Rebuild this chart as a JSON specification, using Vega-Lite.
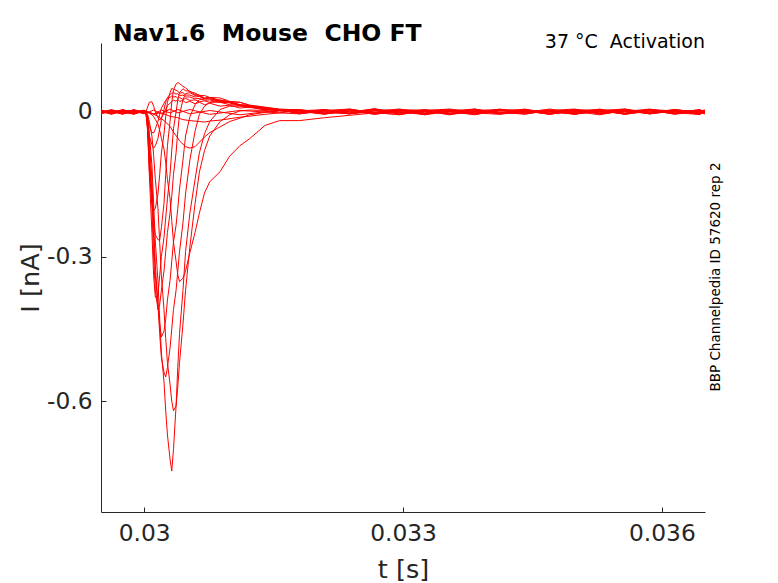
{
  "$schema": "https://vega.github.io/schema/vega-lite/v6.json",
  "description": "Nav1.6 activation current traces",
  "width": 604,
  "height": 469,
  "autosize": "none",
  "padding": {"left": 101, "top": 43, "right": 73, "bottom": 71},
  "background": "white",
  "title": {"text": "Nav1.6\u00a0\u00a0Mouse\u00a0\u00a0CHO FT", "anchor": "start", "frame": "group", "dx": 12, "dy": 34, "offset": 2, "baseline": "alphabetic", "font": "DejaVu Sans", "fontSize": 23.5, "fontWeight": "bold", "color": "#000000"},
  "datasets": {
    "traces": [
      {"s":"a","t":0.0295,"i":0.003},{"s":"a","t":0.02962,"i":-0.004},{"s":"a","t":0.02975,"i":0.002},{"s":"a","t":0.02988,"i":-0.003},{"s":"a","t":0.03,"i":0.001},
      {"s":"a","t":0.03002,"i":0.002},{"s":"a","t":0.03011,"i":-0.005},{"s":"a","t":0.0302,"i":0.004},{"s":"a","t":0.0303,"i":-0.002},{"s":"a","t":0.03039,"i":0.005},{"s":"a","t":0.03053,"i":-0.004},{"s":"a","t":0.03076,"i":0.003},{"s":"a","t":0.03111,"i":-0.006},{"s":"a","t":0.03157,"i":0.004},
      {"s":"a","t":0.0318,"i":0.002},{"s":"a","t":0.03209,"i":-0.005},{"s":"a","t":0.03238,"i":0.006},{"s":"a","t":0.03267,"i":-0.002},{"s":"a","t":0.03296,"i":0.004},{"s":"a","t":0.03325,"i":-0.006},{"s":"a","t":0.03354,"i":0.001},{"s":"a","t":0.03383,"i":0.005},{"s":"a","t":0.03412,"i":-0.003},{"s":"a","t":0.03441,"i":0.003},{"s":"a","t":0.0347,"i":-0.005},{"s":"a","t":0.03499,"i":0.004},{"s":"a","t":0.03528,"i":-0.001},{"s":"a","t":0.03557,"i":0.006},{"s":"a","t":0.03586,"i":-0.004},{"s":"a","t":0.03615,"i":0.002},{"s":"a","t":0.03644,"i":-0.005},{"s":"a","t":0.0365,"i":0.001},

      {"s":"b","t":0.0295,"i":-0.002},{"s":"b","t":0.02962,"i":0.005},{"s":"b","t":0.02975,"i":-0.003},{"s":"b","t":0.02988,"i":0.004},{"s":"b","t":0.03,"i":-0.001},
      {"s":"b","t":0.03002,"i":-0.003},{"s":"b","t":0.03011,"i":0.004},{"s":"b","t":0.0302,"i":-0.004},{"s":"b","t":0.0303,"i":0.006},{"s":"b","t":0.03039,"i":-0.002},{"s":"b","t":0.03053,"i":0.005},{"s":"b","t":0.03076,"i":-0.005},{"s":"b","t":0.03111,"i":0.003},{"s":"b","t":0.03157,"i":-0.002},
      {"s":"b","t":0.0318,"i":-0.004},{"s":"b","t":0.03209,"i":0.003},{"s":"b","t":0.03238,"i":-0.002},{"s":"b","t":0.03267,"i":0.007},{"s":"b","t":0.03296,"i":-0.005},{"s":"b","t":0.03325,"i":0.002},{"s":"b","t":0.03354,"i":-0.006},{"s":"b","t":0.03383,"i":0.003},{"s":"b","t":0.03412,"i":0.005},{"s":"b","t":0.03441,"i":-0.004},{"s":"b","t":0.0347,"i":0.002},{"s":"b","t":0.03499,"i":-0.002},{"s":"b","t":0.03528,"i":0.006},{"s":"b","t":0.03557,"i":-0.005},{"s":"b","t":0.03586,"i":0.003},{"s":"b","t":0.03615,"i":-0.003},{"s":"b","t":0.03644,"i":0.004},{"s":"b","t":0.0365,"i":-0.002},

      {"s":"c","t":0.0295,"i":0.004},{"s":"c","t":0.02962,"i":-0.001},{"s":"c","t":0.02975,"i":0.003},{"s":"c","t":0.02988,"i":-0.005},{"s":"c","t":0.03,"i":0.002},
      {"s":"c","t":0.03002,"i":0.001},{"s":"c","t":0.03011,"i":-0.004},{"s":"c","t":0.0302,"i":-0.002},{"s":"c","t":0.0303,"i":-0.009},{"s":"c","t":0.03039,"i":-0.012},{"s":"c","t":0.03045,"i":-0.016},{"s":"c","t":0.03053,"i":-0.018},{"s":"c","t":0.03064,"i":-0.02},{"s":"c","t":0.0307,"i":-0.021},{"s":"c","t":0.03076,"i":-0.019},{"s":"c","t":0.03088,"i":-0.017},{"s":"c","t":0.03111,"i":-0.011},{"s":"c","t":0.0314,"i":-0.005},{"s":"c","t":0.03157,"i":-0.002},
      {"s":"c","t":0.0318,"i":0.003},{"s":"c","t":0.03209,"i":-0.004},{"s":"c","t":0.03238,"i":0.005},{"s":"c","t":0.03267,"i":-0.001},{"s":"c","t":0.03296,"i":-0.006},{"s":"c","t":0.03325,"i":0.004},{"s":"c","t":0.03354,"i":0.002},{"s":"c","t":0.03383,"i":-0.003},{"s":"c","t":0.03412,"i":0.006},{"s":"c","t":0.03441,"i":-0.002},{"s":"c","t":0.0347,"i":0.001},{"s":"c","t":0.03499,"i":-0.005},{"s":"c","t":0.03528,"i":0.004},{"s":"c","t":0.03557,"i":0.002},{"s":"c","t":0.03586,"i":-0.004},{"s":"c","t":0.03615,"i":0.005},{"s":"c","t":0.03644,"i":-0.001},{"s":"c","t":0.0365,"i":0.003},

      {"s":"d","t":0.0295,"i":-0.003},{"s":"d","t":0.02962,"i":0.002},{"s":"d","t":0.02975,"i":-0.005},{"s":"d","t":0.02988,"i":0.003},{"s":"d","t":0.03,"i":0.0},
      {"s":"d","t":0.03002,"i":0.001},{"s":"d","t":0.03009,"i":-0.003},{"s":"d","t":0.03016,"i":-0.009},{"s":"d","t":0.03023,"i":-0.018},{"s":"d","t":0.0303,"i":-0.03},{"s":"d","t":0.03034,"i":-0.042},{"s":"d","t":0.03039,"i":-0.054},{"s":"d","t":0.03041,"i":-0.06},{"s":"d","t":0.03045,"i":-0.067},{"s":"d","t":0.03048,"i":-0.072},{"s":"d","t":0.03053,"i":-0.075},{"s":"d","t":0.03059,"i":-0.072},{"s":"d","t":0.03064,"i":-0.063},{"s":"d","t":0.0307,"i":-0.052},{"s":"d","t":0.03076,"i":-0.043},{"s":"d","t":0.03088,"i":-0.031},{"s":"d","t":0.03099,"i":-0.02},{"s":"d","t":0.03111,"i":-0.013},{"s":"d","t":0.03122,"i":-0.006},{"s":"d","t":0.0314,"i":-0.001},{"s":"d","t":0.03157,"i":0.003},
      {"s":"d","t":0.0318,"i":-0.002},{"s":"d","t":0.03209,"i":0.005},{"s":"d","t":0.03238,"i":-0.004},{"s":"d","t":0.03267,"i":0.002},{"s":"d","t":0.03296,"i":0.006},{"s":"d","t":0.03325,"i":-0.003},{"s":"d","t":0.03354,"i":0.001},{"s":"d","t":0.03383,"i":-0.006},{"s":"d","t":0.03412,"i":0.004},{"s":"d","t":0.03441,"i":0.003},{"s":"d","t":0.0347,"i":-0.002},{"s":"d","t":0.03499,"i":0.005},{"s":"d","t":0.03528,"i":-0.004},{"s":"d","t":0.03557,"i":0.001},{"s":"d","t":0.03586,"i":0.006},{"s":"d","t":0.03615,"i":-0.002},{"s":"d","t":0.03644,"i":-0.005},{"s":"d","t":0.0365,"i":0.002},

      {"s":"e","t":0.0295,"i":0.002},{"s":"e","t":0.02962,"i":-0.002},{"s":"e","t":0.02975,"i":0.004},{"s":"e","t":0.02988,"i":-0.001},{"s":"e","t":0.03,"i":0.003},
      {"s":"e","t":0.03002,"i":0.0},{"s":"e","t":0.03004,"i":-0.001},{"s":"e","t":0.03006,"i":-0.003},{"s":"e","t":0.03009,"i":-0.006},{"s":"e","t":0.03011,"i":-0.01},{"s":"e","t":0.03013,"i":-0.016},{"s":"e","t":0.03016,"i":-0.025},{"s":"e","t":0.03018,"i":-0.038},{"s":"e","t":0.0302,"i":-0.055},{"s":"e","t":0.03023,"i":-0.077},{"s":"e","t":0.03025,"i":-0.105},{"s":"e","t":0.03027,"i":-0.14},{"s":"e","t":0.0303,"i":-0.18},{"s":"e","t":0.03032,"i":-0.225},{"s":"e","t":0.03034,"i":-0.27},{"s":"e","t":0.03037,"i":-0.31},{"s":"e","t":0.03039,"i":-0.338},{"s":"e","t":0.03041,"i":-0.352},{"s":"e","t":0.03045,"i":-0.345},{"s":"e","t":0.03048,"i":-0.33},{"s":"e","t":0.03053,"i":-0.292},{"s":"e","t":0.03059,"i":-0.25},{"s":"e","t":0.03064,"i":-0.21},{"s":"e","t":0.0307,"i":-0.168},{"s":"e","t":0.03076,"i":-0.145},{"s":"e","t":0.03088,"i":-0.124},{"s":"e","t":0.03099,"i":-0.092},{"s":"e","t":0.03111,"i":-0.07},{"s":"e","t":0.03122,"i":-0.056},{"s":"e","t":0.0314,"i":-0.028},{"s":"e","t":0.03157,"i":-0.018},
      {"s":"e","t":0.0318,"i":-0.018},{"s":"e","t":0.03209,"i":-0.012},{"s":"e","t":0.03238,"i":-0.007},{"s":"e","t":0.03267,"i":-0.002},{"s":"e","t":0.03296,"i":0.004},{"s":"e","t":0.03325,"i":-0.003},{"s":"e","t":0.03354,"i":0.002},{"s":"e","t":0.03383,"i":0.006},{"s":"e","t":0.03412,"i":-0.004},{"s":"e","t":0.03441,"i":0.001},{"s":"e","t":0.0347,"i":0.004},{"s":"e","t":0.03499,"i":-0.005},{"s":"e","t":0.03528,"i":0.003},{"s":"e","t":0.03557,"i":-0.002},{"s":"e","t":0.03586,"i":0.005},{"s":"e","t":0.03615,"i":-0.003},{"s":"e","t":0.03644,"i":0.002},{"s":"e","t":0.0365,"i":-0.004},

      {"s":"f","t":0.0295,"i":-0.004},{"s":"f","t":0.02962,"i":0.003},{"s":"f","t":0.02975,"i":-0.001},{"s":"f","t":0.02988,"i":0.002},{"s":"f","t":0.03,"i":-0.003},
      {"s":"f","t":0.03002,"i":0.001},{"s":"f","t":0.03004,"i":-0.005},{"s":"f","t":0.03006,"i":-0.02},{"s":"f","t":0.03009,"i":-0.05},{"s":"f","t":0.03011,"i":-0.09},{"s":"f","t":0.03013,"i":-0.14},{"s":"f","t":0.03016,"i":-0.2},{"s":"f","t":0.03018,"i":-0.27},{"s":"f","t":0.0302,"i":-0.34},{"s":"f","t":0.03023,"i":-0.41},{"s":"f","t":0.03025,"i":-0.47},{"s":"f","t":0.03027,"i":-0.52},{"s":"f","t":0.0303,"i":-0.565},{"s":"f","t":0.03032,"i":-0.6},{"s":"f","t":0.03034,"i":-0.62},{"s":"f","t":0.03037,"i":-0.61},{"s":"f","t":0.03039,"i":-0.57},{"s":"f","t":0.03041,"i":-0.52},{"s":"f","t":0.03045,"i":-0.44},{"s":"f","t":0.03048,"i":-0.37},{"s":"f","t":0.03053,"i":-0.28},{"s":"f","t":0.03059,"i":-0.19},{"s":"f","t":0.03064,"i":-0.125},{"s":"f","t":0.0307,"i":-0.08},{"s":"f","t":0.03076,"i":-0.05},{"s":"f","t":0.03088,"i":-0.02},{"s":"f","t":0.03099,"i":-0.006},{"s":"f","t":0.03111,"i":0.002},{"s":"f","t":0.03122,"i":0.004},{"s":"f","t":0.0314,"i":0.003},{"s":"f","t":0.03157,"i":0.0},
      {"s":"f","t":0.0318,"i":0.003},{"s":"f","t":0.03209,"i":-0.003},{"s":"f","t":0.03238,"i":0.005},{"s":"f","t":0.03267,"i":-0.005},{"s":"f","t":0.03296,"i":0.002},{"s":"f","t":0.03325,"i":0.004},{"s":"f","t":0.03354,"i":-0.002},{"s":"f","t":0.03383,"i":-0.004},{"s":"f","t":0.03412,"i":0.003},{"s":"f","t":0.03441,"i":0.005},{"s":"f","t":0.0347,"i":-0.003},{"s":"f","t":0.03499,"i":0.001},{"s":"f","t":0.03528,"i":-0.006},{"s":"f","t":0.03557,"i":0.004},{"s":"f","t":0.03586,"i":0.002},{"s":"f","t":0.03615,"i":-0.002},{"s":"f","t":0.03644,"i":0.005},{"s":"f","t":0.0365,"i":-0.001},

      {"s":"g","t":0.0295,"i":0.001},{"s":"g","t":0.02962,"i":-0.003},{"s":"g","t":0.02975,"i":0.005},{"s":"g","t":0.02988,"i":-0.002},{"s":"g","t":0.03,"i":0.002},
      {"s":"g","t":0.03002,"i":0.002},{"s":"g","t":0.03004,"i":-0.01},{"s":"g","t":0.03006,"i":-0.045},{"s":"g","t":0.03009,"i":-0.11},{"s":"g","t":0.03011,"i":-0.19},{"s":"g","t":0.03013,"i":-0.27},{"s":"g","t":0.03016,"i":-0.35},{"s":"g","t":0.03018,"i":-0.43},{"s":"g","t":0.0302,"i":-0.5},{"s":"g","t":0.03023,"i":-0.56},{"s":"g","t":0.03025,"i":-0.62},{"s":"g","t":0.03027,"i":-0.67},{"s":"g","t":0.0303,"i":-0.72},{"s":"g","t":0.03032,"i":-0.745},{"s":"g","t":0.03034,"i":-0.7},{"s":"g","t":0.03037,"i":-0.61},{"s":"g","t":0.03039,"i":-0.53},{"s":"g","t":0.03041,"i":-0.46},{"s":"g","t":0.03045,"i":-0.37},{"s":"g","t":0.03048,"i":-0.29},{"s":"g","t":0.03053,"i":-0.21},{"s":"g","t":0.03059,"i":-0.14},{"s":"g","t":0.03064,"i":-0.085},{"s":"g","t":0.0307,"i":-0.045},{"s":"g","t":0.03076,"i":-0.02},{"s":"g","t":0.03088,"i":0.005},{"s":"g","t":0.03099,"i":0.012},{"s":"g","t":0.03111,"i":0.012},{"s":"g","t":0.03122,"i":0.01},{"s":"g","t":0.0314,"i":0.006},{"s":"g","t":0.03157,"i":0.004},
      {"s":"g","t":0.0318,"i":-0.001},{"s":"g","t":0.03209,"i":0.004},{"s":"g","t":0.03238,"i":-0.003},{"s":"g","t":0.03267,"i":0.006},{"s":"g","t":0.03296,"i":-0.002},{"s":"g","t":0.03325,"i":0.001},{"s":"g","t":0.03354,"i":0.005},{"s":"g","t":0.03383,"i":-0.005},{"s":"g","t":0.03412,"i":0.002},{"s":"g","t":0.03441,"i":-0.001},{"s":"g","t":0.0347,"i":0.006},{"s":"g","t":0.03499,"i":-0.003},{"s":"g","t":0.03528,"i":0.002},{"s":"g","t":0.03557,"i":-0.004},{"s":"g","t":0.03586,"i":0.004},{"s":"g","t":0.03615,"i":0.001},{"s":"g","t":0.03644,"i":-0.003},{"s":"g","t":0.0365,"i":0.003},

      {"s":"h","t":0.0295,"i":-0.001},{"s":"h","t":0.02962,"i":0.004},{"s":"h","t":0.02975,"i":-0.004},{"s":"h","t":0.02988,"i":0.001},{"s":"h","t":0.03,"i":-0.002},
      {"s":"h","t":0.03002,"i":0.0},{"s":"h","t":0.03004,"i":-0.015},{"s":"h","t":0.03006,"i":-0.06},{"s":"h","t":0.03009,"i":-0.14},{"s":"h","t":0.03011,"i":-0.23},{"s":"h","t":0.03013,"i":-0.32},{"s":"h","t":0.03016,"i":-0.4},{"s":"h","t":0.03018,"i":-0.46},{"s":"h","t":0.0302,"i":-0.51},{"s":"h","t":0.03023,"i":-0.54},{"s":"h","t":0.03025,"i":-0.55},{"s":"h","t":0.03027,"i":-0.53},{"s":"h","t":0.0303,"i":-0.49},{"s":"h","t":0.03032,"i":-0.45},{"s":"h","t":0.03034,"i":-0.41},{"s":"h","t":0.03037,"i":-0.37},{"s":"h","t":0.03039,"i":-0.33},{"s":"h","t":0.03041,"i":-0.29},{"s":"h","t":0.03045,"i":-0.23},{"s":"h","t":0.03048,"i":-0.17},{"s":"h","t":0.03053,"i":-0.1},{"s":"h","t":0.03059,"i":-0.04},{"s":"h","t":0.03064,"i":-0.005},{"s":"h","t":0.0307,"i":0.012},{"s":"h","t":0.03076,"i":0.02},{"s":"h","t":0.03088,"i":0.025},{"s":"h","t":0.03099,"i":0.021},{"s":"h","t":0.03111,"i":0.02},{"s":"h","t":0.03122,"i":0.014},{"s":"h","t":0.0314,"i":0.01},{"s":"h","t":0.03157,"i":0.006},
      {"s":"h","t":0.0318,"i":0.004},{"s":"h","t":0.03209,"i":0.001},{"s":"h","t":0.03238,"i":-0.004},{"s":"h","t":0.03267,"i":0.003},{"s":"h","t":0.03296,"i":-0.002},{"s":"h","t":0.03325,"i":0.005},{"s":"h","t":0.03354,"i":-0.004},{"s":"h","t":0.03383,"i":0.002},{"s":"h","t":0.03412,"i":0.0},{"s":"h","t":0.03441,"i":-0.005},{"s":"h","t":0.0347,"i":0.004},{"s":"h","t":0.03499,"i":0.002},{"s":"h","t":0.03528,"i":-0.002},{"s":"h","t":0.03557,"i":0.005},{"s":"h","t":0.03586,"i":-0.004},{"s":"h","t":0.03615,"i":0.003},{"s":"h","t":0.03644,"i":0.0},{"s":"h","t":0.0365,"i":-0.003},

      {"s":"i","t":0.0295,"i":0.003},{"s":"i","t":0.02962,"i":0.0},{"s":"i","t":0.02975,"i":-0.004},{"s":"i","t":0.02988,"i":0.004},{"s":"i","t":0.03,"i":-0.002},
      {"s":"i","t":0.03002,"i":0.0},{"s":"i","t":0.03004,"i":-0.02},{"s":"i","t":0.03006,"i":-0.08},{"s":"i","t":0.03009,"i":-0.17},{"s":"i","t":0.03011,"i":-0.26},{"s":"i","t":0.03013,"i":-0.34},{"s":"i","t":0.03016,"i":-0.4},{"s":"i","t":0.03018,"i":-0.44},{"s":"i","t":0.0302,"i":-0.467},{"s":"i","t":0.03023,"i":-0.455},{"s":"i","t":0.03025,"i":-0.43},{"s":"i","t":0.03027,"i":-0.39},{"s":"i","t":0.0303,"i":-0.35},{"s":"i","t":0.03032,"i":-0.31},{"s":"i","t":0.03034,"i":-0.27},{"s":"i","t":0.03037,"i":-0.235},{"s":"i","t":0.03039,"i":-0.2},{"s":"i","t":0.03041,"i":-0.16},{"s":"i","t":0.03045,"i":-0.1},{"s":"i","t":0.03048,"i":-0.05},{"s":"i","t":0.03053,"i":-0.01},{"s":"i","t":0.03059,"i":0.015},{"s":"i","t":0.03064,"i":0.026},{"s":"i","t":0.0307,"i":0.027},{"s":"i","t":0.03076,"i":0.03},{"s":"i","t":0.03088,"i":0.024},{"s":"i","t":0.03099,"i":0.021},{"s":"i","t":0.03111,"i":0.015},{"s":"i","t":0.03122,"i":0.013},{"s":"i","t":0.0314,"i":0.007},{"s":"i","t":0.03157,"i":0.004},
      {"s":"i","t":0.0318,"i":0.005},{"s":"i","t":0.03209,"i":-0.002},{"s":"i","t":0.03238,"i":0.003},{"s":"i","t":0.03267,"i":-0.005},{"s":"i","t":0.03296,"i":0.004},{"s":"i","t":0.03325,"i":0.0},{"s":"i","t":0.03354,"i":-0.003},{"s":"i","t":0.03383,"i":0.006},{"s":"i","t":0.03412,"i":-0.002},{"s":"i","t":0.03441,"i":0.002},{"s":"i","t":0.0347,"i":-0.004},{"s":"i","t":0.03499,"i":0.005},{"s":"i","t":0.03528,"i":0.001},{"s":"i","t":0.03557,"i":-0.003},{"s":"i","t":0.03586,"i":0.004},{"s":"i","t":0.03615,"i":-0.005},{"s":"i","t":0.03644,"i":0.003},{"s":"i","t":0.0365,"i":0.001},

      {"s":"j","t":0.0295,"i":-0.002},{"s":"j","t":0.02962,"i":0.003},{"s":"j","t":0.02975,"i":0.001},{"s":"j","t":0.02988,"i":-0.004},{"s":"j","t":0.03,"i":0.003},
      {"s":"j","t":0.03002,"i":0.0},{"s":"j","t":0.03004,"i":-0.025},{"s":"j","t":0.03006,"i":-0.1},{"s":"j","t":0.03009,"i":-0.2},{"s":"j","t":0.03011,"i":-0.3},{"s":"j","t":0.03013,"i":-0.37},{"s":"j","t":0.03016,"i":-0.41},{"s":"j","t":0.03018,"i":-0.4},{"s":"j","t":0.0302,"i":-0.37},{"s":"j","t":0.03023,"i":-0.33},{"s":"j","t":0.03025,"i":-0.29},{"s":"j","t":0.03027,"i":-0.25},{"s":"j","t":0.0303,"i":-0.21},{"s":"j","t":0.03032,"i":-0.175},{"s":"j","t":0.03034,"i":-0.13},{"s":"j","t":0.03037,"i":-0.085},{"s":"j","t":0.03039,"i":-0.04},{"s":"j","t":0.03041,"i":-0.005},{"s":"j","t":0.03045,"i":0.025},{"s":"j","t":0.03048,"i":0.038},{"s":"j","t":0.03053,"i":0.04},{"s":"j","t":0.03059,"i":0.034},{"s":"j","t":0.03064,"i":0.033},{"s":"j","t":0.0307,"i":0.028},{"s":"j","t":0.03076,"i":0.029},{"s":"j","t":0.03088,"i":0.022},{"s":"j","t":0.03099,"i":0.019},{"s":"j","t":0.03111,"i":0.013},{"s":"j","t":0.03122,"i":0.011},{"s":"j","t":0.0314,"i":0.005},{"s":"j","t":0.03157,"i":0.003},
      {"s":"j","t":0.0318,"i":0.003},{"s":"j","t":0.03209,"i":-0.004},{"s":"j","t":0.03238,"i":0.001},{"s":"j","t":0.03267,"i":0.005},{"s":"j","t":0.03296,"i":-0.003},{"s":"j","t":0.03325,"i":0.002},{"s":"j","t":0.03354,"i":0.004},{"s":"j","t":0.03383,"i":-0.002},{"s":"j","t":0.03412,"i":-0.005},{"s":"j","t":0.03441,"i":0.003},{"s":"j","t":0.0347,"i":0.0},{"s":"j","t":0.03499,"i":0.004},{"s":"j","t":0.03528,"i":-0.004},{"s":"j","t":0.03557,"i":0.002},{"s":"j","t":0.03586,"i":-0.001},{"s":"j","t":0.03615,"i":0.005},{"s":"j","t":0.03644,"i":-0.002},{"s":"j","t":0.0365,"i":0.0},

      {"s":"k","t":0.0295,"i":0.004},{"s":"k","t":0.02962,"i":-0.003},{"s":"k","t":0.02975,"i":0.0},{"s":"k","t":0.02988,"i":0.002},{"s":"k","t":0.03,"i":-0.004},
      {"s":"k","t":0.03002,"i":0.0},{"s":"k","t":0.03004,"i":-0.035},{"s":"k","t":0.03006,"i":-0.13},{"s":"k","t":0.03009,"i":-0.25},{"s":"k","t":0.03011,"i":-0.34},{"s":"k","t":0.03013,"i":-0.385},{"s":"k","t":0.03016,"i":-0.38},{"s":"k","t":0.03018,"i":-0.34},{"s":"k","t":0.0302,"i":-0.3},{"s":"k","t":0.03023,"i":-0.26},{"s":"k","t":0.03025,"i":-0.22},{"s":"k","t":0.03027,"i":-0.18},{"s":"k","t":0.0303,"i":-0.13},{"s":"k","t":0.03032,"i":-0.08},{"s":"k","t":0.03034,"i":-0.035},{"s":"k","t":0.03037,"i":0.0},{"s":"k","t":0.03039,"i":0.025},{"s":"k","t":0.03041,"i":0.04},{"s":"k","t":0.03045,"i":0.048},{"s":"k","t":0.03048,"i":0.044},{"s":"k","t":0.03053,"i":0.043},{"s":"k","t":0.03059,"i":0.036},{"s":"k","t":0.03064,"i":0.035},{"s":"k","t":0.0307,"i":0.029},{"s":"k","t":0.03076,"i":0.03},{"s":"k","t":0.03088,"i":0.023},{"s":"k","t":0.03099,"i":0.021},{"s":"k","t":0.03111,"i":0.015},{"s":"k","t":0.03122,"i":0.013},{"s":"k","t":0.0314,"i":0.006},{"s":"k","t":0.03157,"i":0.004},
      {"s":"k","t":0.0318,"i":0.002},{"s":"k","t":0.03209,"i":0.005},{"s":"k","t":0.03238,"i":-0.003},{"s":"k","t":0.03267,"i":0.0},{"s":"k","t":0.03296,"i":0.004},{"s":"k","t":0.03325,"i":-0.004},{"s":"k","t":0.03354,"i":0.003},{"s":"k","t":0.03383,"i":0.001},{"s":"k","t":0.03412,"i":-0.002},{"s":"k","t":0.03441,"i":0.006},{"s":"k","t":0.0347,"i":-0.003},{"s":"k","t":0.03499,"i":-0.001},{"s":"k","t":0.03528,"i":0.004},{"s":"k","t":0.03557,"i":-0.005},{"s":"k","t":0.03586,"i":0.002},{"s":"k","t":0.03615,"i":0.003},{"s":"k","t":0.03644,"i":-0.004},{"s":"k","t":0.0365,"i":0.002},

      {"s":"l","t":0.0295,"i":-0.003},{"s":"l","t":0.02962,"i":0.001},{"s":"l","t":0.02975,"i":0.003},{"s":"l","t":0.02988,"i":-0.002},{"s":"l","t":0.03,"i":0.004},
      {"s":"l","t":0.03002,"i":0.0},{"s":"l","t":0.03004,"i":-0.03},{"s":"l","t":0.03006,"i":-0.1},{"s":"l","t":0.03009,"i":-0.18},{"s":"l","t":0.03011,"i":-0.23},{"s":"l","t":0.03013,"i":-0.255},{"s":"l","t":0.03016,"i":-0.265},{"s":"l","t":0.03018,"i":-0.266},{"s":"l","t":0.0302,"i":-0.24},{"s":"l","t":0.03023,"i":-0.19},{"s":"l","t":0.03025,"i":-0.13},{"s":"l","t":0.03027,"i":-0.07},{"s":"l","t":0.0303,"i":-0.02},{"s":"l","t":0.03032,"i":0.02},{"s":"l","t":0.03034,"i":0.045},{"s":"l","t":0.03037,"i":0.058},{"s":"l","t":0.03039,"i":0.061},{"s":"l","t":0.03041,"i":0.059},{"s":"l","t":0.03045,"i":0.053},{"s":"l","t":0.03048,"i":0.05},{"s":"l","t":0.03053,"i":0.042},{"s":"l","t":0.03059,"i":0.039},{"s":"l","t":0.03064,"i":0.034},{"s":"l","t":0.0307,"i":0.034},{"s":"l","t":0.03076,"i":0.03},{"s":"l","t":0.03088,"i":0.029},{"s":"l","t":0.03099,"i":0.022},{"s":"l","t":0.03111,"i":0.02},{"s":"l","t":0.03122,"i":0.014},{"s":"l","t":0.0314,"i":0.009},{"s":"l","t":0.03157,"i":0.005},
      {"s":"l","t":0.0318,"i":-0.002},{"s":"l","t":0.03209,"i":0.003},{"s":"l","t":0.03238,"i":0.006},{"s":"l","t":0.03267,"i":-0.003},{"s":"l","t":0.03296,"i":0.001},{"s":"l","t":0.03325,"i":-0.005},{"s":"l","t":0.03354,"i":0.004},{"s":"l","t":0.03383,"i":0.002},{"s":"l","t":0.03412,"i":-0.003},{"s":"l","t":0.03441,"i":0.004},{"s":"l","t":0.0347,"i":0.001},{"s":"l","t":0.03499,"i":-0.004},{"s":"l","t":0.03528,"i":0.003},{"s":"l","t":0.03557,"i":0.006},{"s":"l","t":0.03586,"i":-0.002},{"s":"l","t":0.03615,"i":0.0},{"s":"l","t":0.03644,"i":0.004},{"s":"l","t":0.0365,"i":-0.003},

      {"s":"m","t":0.0295,"i":0.002},{"s":"m","t":0.02962,"i":-0.005},{"s":"m","t":0.02975,"i":0.002},{"s":"m","t":0.02988,"i":0.003},{"s":"m","t":0.03,"i":-0.001},
      {"s":"m","t":0.03002,"i":0.0},{"s":"m","t":0.03004,"i":-0.04},{"s":"m","t":0.03006,"i":-0.12},{"s":"m","t":0.03009,"i":-0.18},{"s":"m","t":0.03011,"i":-0.205},{"s":"m","t":0.03013,"i":-0.2},{"s":"m","t":0.03016,"i":-0.17},{"s":"m","t":0.03018,"i":-0.13},{"s":"m","t":0.0302,"i":-0.085},{"s":"m","t":0.03023,"i":-0.045},{"s":"m","t":0.03025,"i":-0.01},{"s":"m","t":0.03027,"i":0.02},{"s":"m","t":0.0303,"i":0.04},{"s":"m","t":0.03032,"i":0.049},{"s":"m","t":0.03034,"i":0.047},{"s":"m","t":0.03037,"i":0.045},{"s":"m","t":0.03039,"i":0.043},{"s":"m","t":0.03041,"i":0.039},{"s":"m","t":0.03045,"i":0.04},{"s":"m","t":0.03048,"i":0.035},{"s":"m","t":0.03053,"i":0.035},{"s":"m","t":0.03059,"i":0.031},{"s":"m","t":0.03064,"i":0.032},{"s":"m","t":0.0307,"i":0.027},{"s":"m","t":0.03076,"i":0.027},{"s":"m","t":0.03088,"i":0.022},{"s":"m","t":0.03099,"i":0.02},{"s":"m","t":0.03111,"i":0.014},{"s":"m","t":0.03122,"i":0.013},{"s":"m","t":0.0314,"i":0.007},{"s":"m","t":0.03157,"i":0.005},
      {"s":"m","t":0.0318,"i":0.004},{"s":"m","t":0.03209,"i":-0.001},{"s":"m","t":0.03238,"i":-0.004},{"s":"m","t":0.03267,"i":0.005},{"s":"m","t":0.03296,"i":0.002},{"s":"m","t":0.03325,"i":-0.002},{"s":"m","t":0.03354,"i":0.0},{"s":"m","t":0.03383,"i":0.005},{"s":"m","t":0.03412,"i":-0.004},{"s":"m","t":0.03441,"i":-0.002},{"s":"m","t":0.0347,"i":0.003},{"s":"m","t":0.03499,"i":0.006},{"s":"m","t":0.03528,"i":-0.003},{"s":"m","t":0.03557,"i":0.001},{"s":"m","t":0.03586,"i":0.003},{"s":"m","t":0.03615,"i":-0.004},{"s":"m","t":0.03644,"i":0.002},{"s":"m","t":0.0365,"i":0.004},

      {"s":"n","t":0.0295,"i":0.0},{"s":"n","t":0.02962,"i":0.003},{"s":"n","t":0.02975,"i":-0.003},{"s":"n","t":0.02988,"i":0.005},{"s":"n","t":0.03,"i":-0.002},
      {"s":"n","t":0.03002,"i":0.0},{"s":"n","t":0.03004,"i":-0.02},{"s":"n","t":0.03006,"i":-0.05},{"s":"n","t":0.03009,"i":-0.068},{"s":"n","t":0.03011,"i":-0.075},{"s":"n","t":0.03013,"i":-0.07},{"s":"n","t":0.03016,"i":-0.055},{"s":"n","t":0.03018,"i":-0.035},{"s":"n","t":0.0302,"i":-0.015},{"s":"n","t":0.03023,"i":0.005},{"s":"n","t":0.03025,"i":0.02},{"s":"n","t":0.03027,"i":0.03},{"s":"n","t":0.0303,"i":0.036},{"s":"n","t":0.03032,"i":0.039},{"s":"n","t":0.03034,"i":0.04},{"s":"n","t":0.03037,"i":0.037},{"s":"n","t":0.03039,"i":0.038},{"s":"n","t":0.03041,"i":0.034},{"s":"n","t":0.03045,"i":0.035},{"s":"n","t":0.03048,"i":0.031},{"s":"n","t":0.03053,"i":0.031},{"s":"n","t":0.03059,"i":0.027},{"s":"n","t":0.03064,"i":0.028},{"s":"n","t":0.0307,"i":0.024},{"s":"n","t":0.03076,"i":0.025},{"s":"n","t":0.03088,"i":0.02},{"s":"n","t":0.03099,"i":0.019},{"s":"n","t":0.03111,"i":0.013},{"s":"n","t":0.03122,"i":0.012},{"s":"n","t":0.0314,"i":0.006},{"s":"n","t":0.03157,"i":0.004},
      {"s":"n","t":0.0318,"i":-0.003},{"s":"n","t":0.03209,"i":0.002},{"s":"n","t":0.03238,"i":0.004},{"s":"n","t":0.03267,"i":-0.002},{"s":"n","t":0.03296,"i":-0.005},{"s":"n","t":0.03325,"i":0.003},{"s":"n","t":0.03354,"i":0.006},{"s":"n","t":0.03383,"i":0.0},{"s":"n","t":0.03412,"i":-0.003},{"s":"n","t":0.03441,"i":0.002},{"s":"n","t":0.0347,"i":-0.005},{"s":"n","t":0.03499,"i":0.003},{"s":"n","t":0.03528,"i":0.005},{"s":"n","t":0.03557,"i":-0.003},{"s":"n","t":0.03586,"i":0.0},{"s":"n","t":0.03615,"i":0.002},{"s":"n","t":0.03644,"i":-0.005},{"s":"n","t":0.0365,"i":0.003},

      {"s":"o","t":0.0295,"i":0.002},{"s":"o","t":0.02962,"i":0.0},{"s":"o","t":0.02975,"i":-0.002},{"s":"o","t":0.02988,"i":-0.004},{"s":"o","t":0.03,"i":0.002},
      {"s":"o","t":0.03002,"i":0.0},{"s":"o","t":0.03004,"i":-0.012},{"s":"o","t":0.03006,"i":-0.03},{"s":"o","t":0.03009,"i":-0.042},{"s":"o","t":0.03011,"i":-0.044},{"s":"o","t":0.03013,"i":-0.035},{"s":"o","t":0.03016,"i":-0.02},{"s":"o","t":0.03018,"i":-0.005},{"s":"o","t":0.0302,"i":0.008},{"s":"o","t":0.03023,"i":0.018},{"s":"o","t":0.03025,"i":0.024},{"s":"o","t":0.03027,"i":0.028},{"s":"o","t":0.0303,"i":0.03},{"s":"o","t":0.03032,"i":0.033},{"s":"o","t":0.03034,"i":0.031},{"s":"o","t":0.03037,"i":0.032},{"s":"o","t":0.03039,"i":0.028},{"s":"o","t":0.03041,"i":0.03},{"s":"o","t":0.03045,"i":0.026},{"s":"o","t":0.03048,"i":0.028},{"s":"o","t":0.03053,"i":0.024},{"s":"o","t":0.03059,"i":0.025},{"s":"o","t":0.03064,"i":0.021},{"s":"o","t":0.0307,"i":0.023},{"s":"o","t":0.03076,"i":0.02},{"s":"o","t":0.03088,"i":0.02},{"s":"o","t":0.03099,"i":0.015},{"s":"o","t":0.03111,"i":0.014},{"s":"o","t":0.03122,"i":0.009},{"s":"o","t":0.0314,"i":0.008},{"s":"o","t":0.03157,"i":0.003},
      {"s":"o","t":0.0318,"i":0.001},{"s":"o","t":0.03209,"i":-0.004},{"s":"o","t":0.03238,"i":0.002},{"s":"o","t":0.03267,"i":0.004},{"s":"o","t":0.03296,"i":-0.001},{"s":"o","t":0.03325,"i":-0.005},{"s":"o","t":0.03354,"i":0.003},{"s":"o","t":0.03383,"i":-0.002},{"s":"o","t":0.03412,"i":0.005},{"s":"o","t":0.03441,"i":0.001},{"s":"o","t":0.0347,"i":-0.003},{"s":"o","t":0.03499,"i":0.0},{"s":"o","t":0.03528,"i":0.002},{"s":"o","t":0.03557,"i":-0.004},{"s":"o","t":0.03586,"i":0.005},{"s":"o","t":0.03615,"i":0.002},{"s":"o","t":0.03644,"i":-0.002},{"s":"o","t":0.0365,"i":-0.004},

      {"s":"p","t":0.0295,"i":-0.001},{"s":"p","t":0.02962,"i":-0.003},{"s":"p","t":0.02975,"i":0.004},{"s":"p","t":0.02988,"i":0.001},{"s":"p","t":0.03,"i":0.003},
      {"s":"p","t":0.03002,"i":0.0},{"s":"p","t":0.03004,"i":0.01},{"s":"p","t":0.03006,"i":0.02},{"s":"p","t":0.03009,"i":0.021},{"s":"p","t":0.03011,"i":0.012},{"s":"p","t":0.03013,"i":0.0},{"s":"p","t":0.03016,"i":-0.012},{"s":"p","t":0.03018,"i":-0.017},{"s":"p","t":0.0302,"i":-0.012},{"s":"p","t":0.03023,"i":-0.003},{"s":"p","t":0.03025,"i":0.006},{"s":"p","t":0.03027,"i":0.013},{"s":"p","t":0.0303,"i":0.018},{"s":"p","t":0.03032,"i":0.021},{"s":"p","t":0.03034,"i":0.025},{"s":"p","t":0.03037,"i":0.022},{"s":"p","t":0.03039,"i":0.026},{"s":"p","t":0.03041,"i":0.022},{"s":"p","t":0.03045,"i":0.024},{"s":"p","t":0.03048,"i":0.019},{"s":"p","t":0.03053,"i":0.022},{"s":"p","t":0.03059,"i":0.017},{"s":"p","t":0.03064,"i":0.02},{"s":"p","t":0.0307,"i":0.015},{"s":"p","t":0.03076,"i":0.018},{"s":"p","t":0.03088,"i":0.012},{"s":"p","t":0.03099,"i":0.014},{"s":"p","t":0.03111,"i":0.008},{"s":"p","t":0.03122,"i":0.01},{"s":"p","t":0.0314,"i":0.004},{"s":"p","t":0.03157,"i":0.005},
      {"s":"p","t":0.0318,"i":-0.004},{"s":"p","t":0.03209,"i":0.002},{"s":"p","t":0.03238,"i":0.0},{"s":"p","t":0.03267,"i":-0.003},{"s":"p","t":0.03296,"i":0.005},{"s":"p","t":0.03325,"i":0.003},{"s":"p","t":0.03354,"i":-0.005},{"s":"p","t":0.03383,"i":0.001},{"s":"p","t":0.03412,"i":0.004},{"s":"p","t":0.03441,"i":-0.002},{"s":"p","t":0.0347,"i":0.002},{"s":"p","t":0.03499,"i":-0.004},{"s":"p","t":0.03528,"i":0.0},{"s":"p","t":0.03557,"i":0.003},{"s":"p","t":0.03586,"i":-0.003},{"s":"p","t":0.03615,"i":0.004},{"s":"p","t":0.03644,"i":0.001},{"s":"p","t":0.0365,"i":-0.002}
    ]
  },
  "layer": [
    {
      "data": {"name": "traces"},
      "mark": {"type": "line", "color": "#ff0000", "strokeWidth": 1, "clip": true},
      "encoding": {
        "x": {
          "field": "t", "type": "quantitative",
          "scale": {"domain": [0.0295, 0.0365], "nice": false, "zero": false},
          "axis": {"title": "t [s]", "values": [0.03, 0.033, 0.036], "format": "~g", "labelPadding": 15, "titleBaseline": "alphabetic", "titleY": 65}
        },
        "y": {
          "field": "i", "type": "quantitative",
          "scale": {"domain": [-0.83, 0.143], "nice": false, "zero": false},
          "axis": {"title": "I [nA]", "values": [-0.6, -0.3, 0], "format": "~g", "labelExpr": "replace(datum.label, '\u2212', '-')", "labelPadding": 14, "titleX": -71, "titleY": 234.5, "titleBaseline": "middle"}
        },
        "detail": {"field": "s", "type": "nominal"}
      }
    },
    {
      "data": {"values": [{"label": "37 °C\u00a0\u00a0Activation"}]},
      "mark": {"type": "text", "align": "right", "baseline": "alphabetic", "font": "DejaVu Sans", "fontSize": 19, "color": "#000000"},
      "encoding": {
        "x": {"datum": 0.0365, "type": "quantitative", "scale": {"domain": [0.0295, 0.0365], "nice": false, "zero": false}},
        "y": {"datum": 0.133, "type": "quantitative", "scale": {"domain": [-0.83, 0.143], "nice": false, "zero": false}},
        "text": {"field": "label", "type": "nominal"}
      }
    },
    {
      "data": {"values": [{"label": "BBP Channelpedia ID 57620 rep 2"}]},
      "mark": {"type": "text", "align": "center", "baseline": "middle", "angle": 270, "font": "DejaVu Sans", "fontSize": 13.5, "color": "#000000"},
      "encoding": {
        "x": {"datum": 0.03663, "type": "quantitative", "scale": {"domain": [0.0295, 0.0365], "nice": false, "zero": false}},
        "y": {"datum": -0.3425, "type": "quantitative", "scale": {"domain": [-0.83, 0.143], "nice": false, "zero": false}},
        "text": {"field": "label", "type": "nominal"}
      }
    }
  ],
  "config": {
    "view": {"stroke": null},
    "axis": {
      "grid": false,
      "domainColor": "#262626",
      "domainWidth": 1,
      "tickColor": "#262626",
      "tickWidth": 1,
      "tickSize": -5,
      "labelColor": "#262626",
      "labelFont": "DejaVu Sans",
      "labelFontSize": 23.3,
      "titleColor": "#262626",
      "titleFont": "DejaVu Sans",
      "titleFontSize": 25.6,
      "titleFontWeight": "normal"
    }
  }
}
